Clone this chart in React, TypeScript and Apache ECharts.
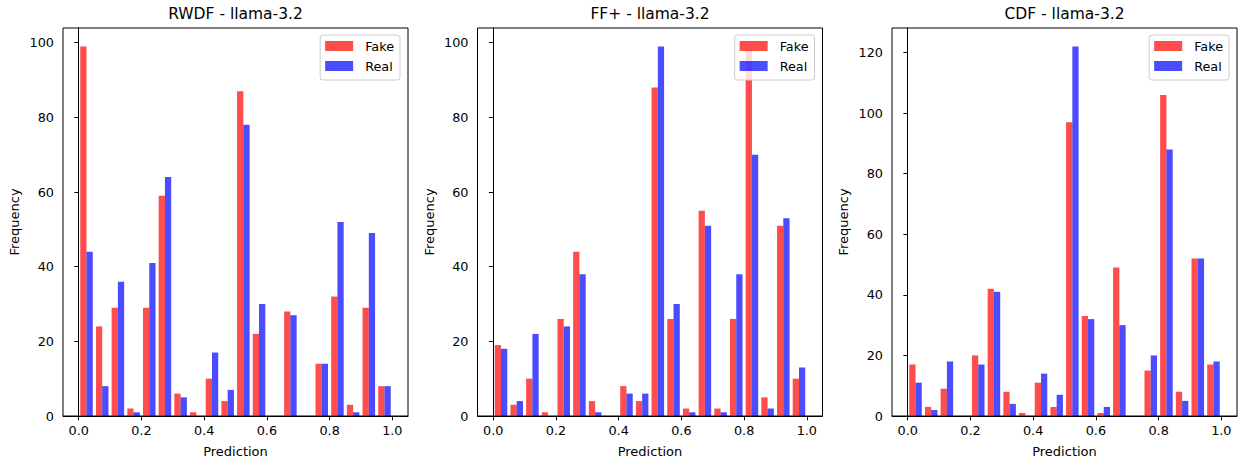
import React, { useEffect, useRef } from "react";
import * as echarts from "echarts";

const BIN_EDGES = [0, 0.05, 0.1, 0.15, 0.2, 0.25, 0.3, 0.35, 0.4, 0.45, 0.5, 0.55, 0.6, 0.65, 0.7, 0.75, 0.8, 0.85, 0.9, 0.95, 1.0];
const TITLES = ["RWDF - llama-3.2", "FF+ - llama-3.2", "CDF - llama-3.2"];
const SERIES_NAMES = ["Fake", "Real"];
const RWDF_FAKE = [99, 24, 29, 2, 29, 59, 6, 1, 10, 4, 87, 22, 0, 28, 0, 14, 32, 3, 29, 8];
const RWDF_REAL = [44, 8, 36, 1, 41, 64, 5, 0, 17, 7, 78, 30, 0, 27, 0, 14, 52, 1, 49, 8];
const FFPP_FAKE = [19, 3, 10, 1, 26, 44, 4, 0, 8, 4, 88, 26, 2, 55, 2, 26, 98, 5, 51, 10];
const FFPP_REAL = [18, 4, 22, 0, 24, 38, 1, 0, 6, 6, 99, 30, 1, 51, 1, 38, 70, 2, 53, 13];
const CDF_FAKE = [17, 3, 9, 0, 20, 42, 8, 1, 11, 3, 97, 33, 1, 49, 0, 15, 106, 8, 52, 17];
const CDF_REAL = [11, 2, 18, 0, 17, 41, 4, 0, 14, 7, 122, 32, 3, 30, 0, 20, 88, 5, 52, 18];
const X_TICKS = [0, 0.2, 0.4, 0.6, 0.8, 1.0];
const Y_TICKS_AB = [0, 20, 40, 60, 80, 100];
const Y_TICKS_C = [0, 20, 40, 60, 80, 100, 120];

const PANELS = [
  { title: TITLES[0], fake: RWDF_FAKE, real: RWDF_REAL, yTicks: Y_TICKS_AB },
  { title: TITLES[1], fake: FFPP_FAKE, real: FFPP_REAL, yTicks: Y_TICKS_AB },
  { title: TITLES[2], fake: CDF_FAKE, real: CDF_REAL, yTicks: Y_TICKS_C },
];

const FONT = "DejaVu Sans";
const GRID_LEFTS = [63, 477.5, 892];
const GRID_W = 345;
const GRID_TOP = 28;
const GRID_H = 389;
const COLORS = ["rgba(255,0,0,0.7)", "rgba(0,0,255,0.7)"];

function toBins(values: number[]) {
  return values.map((v, i) => [BIN_EDGES[i], BIN_EDGES[i + 1], v]);
}

function makeRender(startFrac: number, endFrac: number) {
  return (params: any, api: any) => {
    const left = api.value(0);
    const right = api.value(1);
    const v = api.value(2);
    if (!v) return null;
    const w = right - left;
    const p0 = api.coord([left + startFrac * w, v]);
    const p1 = api.coord([left + endFrac * w, 0]);
    return {
      type: "rect",
      shape: { x: p0[0], y: p0[1], width: p1[0] - p0[0], height: p1[1] - p0[1] },
      style: { fill: api.visual("color") },
    };
  };
}

export default function App() {
  const ref = useRef<HTMLDivElement>(null);
  useEffect(() => {
    if (!ref.current) return;
    const chart = echarts.init(ref.current, null, { renderer: "svg" });
    const grids: any[] = [];
    const xAxes: any[] = [];
    const yAxes: any[] = [];
    const series: any[] = [];
    const titles: any[] = [];
    const legends: any[] = [];
    PANELS.forEach((p, i) => {
      const left = GRID_LEFTS[i];
      grids.push({
        left,
        top: GRID_TOP,
        width: GRID_W,
        height: GRID_H,
        show: true,
        borderColor: "#000",
        borderWidth: 1,
        backgroundColor: "transparent",
      });
      xAxes.push({
        type: "value",
        gridIndex: i,
        min: -0.05,
        max: 1.05,
        name: "Prediction",
        nameLocation: "middle",
        nameGap: 29,
        nameTextStyle: { fontFamily: FONT, fontSize: 13, color: "#000" },
        axisLine: { show: true, lineStyle: { color: "#000", width: 1 } },
        axisTick: { show: true, length: 4.3, customValues: X_TICKS, lineStyle: { color: "#000", width: 1 } },
        axisLabel: {
          show: true,
          customValues: X_TICKS,
          margin: 8,
          fontFamily: FONT,
          fontSize: 12.8,
          color: "#000",
          formatter: (v: number) => v.toFixed(1),
        },
        splitLine: { show: false },
      });
      const maxVal = Math.max(...p.fake, ...p.real) * 1.05;
      yAxes.push({
        type: "value",
        gridIndex: i,
        min: 0,
        max: maxVal,
        name: "Frequency",
        nameLocation: "middle",
        nameGap: 42,
        nameTextStyle: { fontFamily: FONT, fontSize: 13, color: "#000" },
        axisLine: { show: true, lineStyle: { color: "#000", width: 1 } },
        axisTick: { show: true, length: 4.3, customValues: p.yTicks, lineStyle: { color: "#000", width: 1 } },
        axisLabel: {
          show: true,
          customValues: p.yTicks,
          margin: 9,
          fontFamily: FONT,
          fontSize: 12.8,
          color: "#000",
        },
        splitLine: { show: false },
      });
      [p.fake, p.real].forEach((vals, k) => {
        series.push({
          type: "custom",
          name: SERIES_NAMES[k],
          xAxisIndex: i,
          yAxisIndex: i,
          itemStyle: { color: COLORS[k] },
          renderItem: k === 0 ? makeRender(0.1, 0.5) : makeRender(0.5, 0.9),
          encode: { x: [0, 1], y: 2 },
          data: toBins(vals),
        });
      });
      titles.push({
        text: p.title,
        left: left + GRID_W / 2,
        textAlign: "center",
        top: 6,
        padding: 0,
        textStyle: { fontFamily: FONT, fontSize: 15.5, fontWeight: "normal", color: "#000" },
      });
      legends.push({
        data: SERIES_NAMES,
        orient: "vertical",
        right: 1244 - (left + GRID_W - 8),
        top: 35,
        icon: "rect",
        itemWidth: 28,
        itemHeight: 10,
        itemGap: 6,
        padding: [4, 6, 7, 5],
        backgroundColor: "rgba(255,255,255,0.8)",
        borderColor: "#ccc",
        borderWidth: 1,
        borderRadius: 3,
        selectedMode: false,
        textStyle: { fontFamily: FONT, fontSize: 12.8, color: "#000", lineHeight: 14, padding: [0, 0, 0, 7] },
      });
    });
    chart.setOption({
      animation: false,
      textStyle: { fontFamily: FONT },
      title: titles,
      legend: legends,
      grid: grids,
      xAxis: xAxes,
      yAxis: yAxes,
      series,
    });
    return () => chart.dispose();
  }, []);
  return (
    <div
      ref={ref}
      style={{ position: "absolute", left: 0, top: 0, width: 1244, height: 463, background: "#fff" }}
    />
  );
}
